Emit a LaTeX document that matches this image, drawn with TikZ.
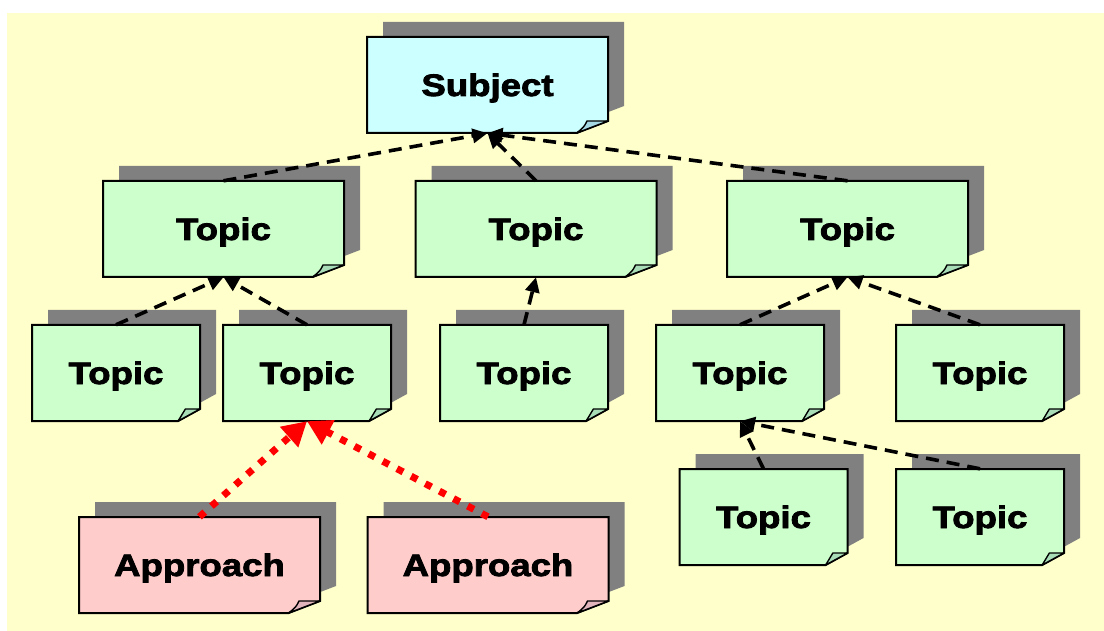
\documentclass[tikz,border=0pt]{standalone}
\usepackage{fontspec}
\setmainfont{Liberation Sans}[FakeStretch=1.18, BoldFeatures={FakeBold=2.6}]
\usetikzlibrary{arrows.meta}

\definecolor{paper}{HTML}{FFFFCC}
\definecolor{subjfill}{HTML}{CCFFFF}
\definecolor{subjfold}{HTML}{A6D8E4}
\definecolor{topicfill}{HTML}{CCFFCC}
\definecolor{topicfold}{HTML}{A8DDB8}
\definecolor{apprfill}{HTML}{FFCCCC}
\definecolor{apprfold}{HTML}{E2B4BC}
\definecolor{shadowgray}{HTML}{808080}

\pgfdeclarelayer{back}
\pgfsetlayers{back,main}

\tikzset{
  cardline/.style={draw=black, line width=2pt, line join=miter},
  foldline/.style={draw=black, line width=1.4pt, line join=round},
  cardtext/.style={draw=none, fill=none, inner sep=0pt, align=center,
    text height=22pt, text depth=0pt,
    font=\fontsize{31}{34}\selectfont\bfseries},
  dep/.style={draw=black, line width=3.6pt, dash pattern=on 13pt off 8pt,
    -{Triangle[length=15pt,width=14pt]}},
  approach/.style={draw=red, line width=7pt, dash pattern=on 7pt off 9pt,
    -{Triangle[length=24pt,width=26pt]}}
}

% sticky-note card: name, centre x, centre y, width, fill, fold fill, text
\newcommand\notecard[7]{%
  \pgfmathsetmacro\nL{#2-#4/2}\pgfmathsetmacro\nR{#2+#4/2}%
  \pgfmathsetmacro\nT{#3-48}\pgfmathsetmacro\nB{#3+48}%
  \pgfmathsetmacro\ncx{0.13*#4}\pgfmathsetmacro\nfw{0.67*\ncx}%
  \begin{pgfonlayer}{back}
    \fill[shadowgray] (\nL+16,\nT-15) -- (\nR+16,\nT-15) -- (\nR+16,\nB-27)
      -- (\nR+16-\ncx,\nB-15) -- (\nL+16,\nB-15) -- cycle;
    \filldraw[fill=#5, cardline] (\nL,\nT) -- (\nR,\nT) -- (\nR,\nB-12)
      -- (\nR-\ncx,\nB) -- (\nL,\nB) -- cycle;
    \filldraw[fill=#6, foldline] (\nR,\nB-12) -- (\nR-\nfw,\nB-12)
      .. controls (\nR-\nfw-3,\nB-6) .. (\nR-\ncx,\nB) -- cycle;
  \end{pgfonlayer}
  \node[cardtext, minimum width=#4pt, minimum height=96pt] (#1) at (#2,#3) {#7};
}

\begin{document}
\begin{tikzpicture}[x=1pt, y=-1pt]
  \useasboundingbox (0,0) rectangle (1104,631);
  \begin{pgfonlayer}{back}
    \fill[white] (0,0) rectangle (1104,631);
    \fill[paper] (7,13) rectangle (1104,631);
  \end{pgfonlayer}

  % subject
  \notecard{subj}{487.5}{85}{241}{subjfill}{subjfold}{Subject}
  % first level topics
  \notecard{ta}{223.5}{229}{241}{topicfill}{topicfold}{Topic}
  \notecard{tb}{536}{229}{241}{topicfill}{topicfold}{Topic}
  \notecard{tc}{847.5}{229}{241}{topicfill}{topicfold}{Topic}
  % second level topics
  \notecard{td}{116}{373}{168}{topicfill}{topicfold}{Topic}
  \notecard{te}{307}{373}{168}{topicfill}{topicfold}{Topic}
  \notecard{tf}{524}{373}{168}{topicfill}{topicfold}{Topic}
  \notecard{tg}{740}{373}{168}{topicfill}{topicfold}{Topic}
  \notecard{th}{980}{373}{168}{topicfill}{topicfold}{Topic}
  % third level topics
  \notecard{ti}{763.5}{517}{168}{topicfill}{topicfold}{Topic}
  \notecard{tj}{980}{517}{168}{topicfill}{topicfold}{Topic}
  % approaches
  \notecard{aa}{199.5}{565}{241}{apprfill}{apprfold}{Approach}
  \notecard{ab}{488}{565}{241}{apprfill}{apprfold}{Approach}

  % dependencies
  \draw[dep] (ta.north) -- (subj.south);
  \draw[dep] (tb.north) -- (subj.south);
  \draw[dep] (tc.north) -- (subj.south);
  \draw[dep] (td.north) -- (ta.south);
  \draw[dep] (te.north) -- (ta.south);
  \draw[dep] (tf.north) -- (tb.south);
  \draw[dep] (tg.north) -- (tc.south);
  \draw[dep] (th.north) -- (tc.south);
  \draw[dep] (ti.north) -- (tg.south);
  \draw[dep] (tj.north) -- (tg.south);
  \draw[approach] (aa.north) -- (te.south);
  \draw[approach] (ab.north) -- (te.south);
\end{tikzpicture}
\end{document}
